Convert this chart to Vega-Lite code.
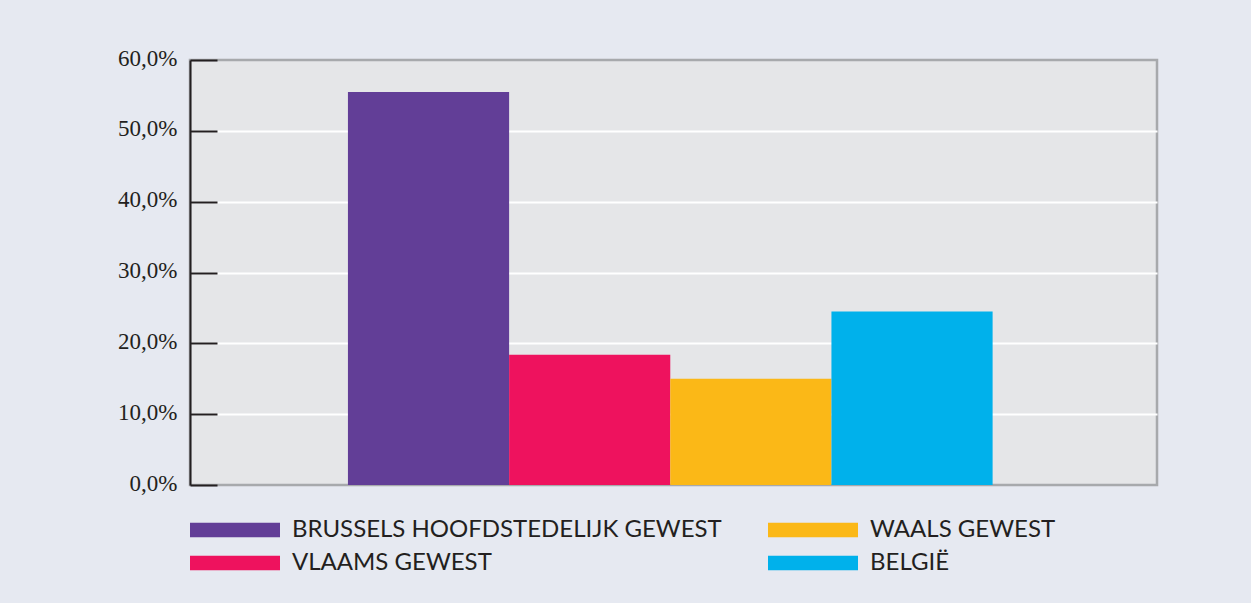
{
  "$schema": "https://vega.github.io/schema/vega-lite/v6.json",
  "autosize": "none",
  "width": 967,
  "height": 425,
  "padding": {"left": 190, "top": 60, "right": 94, "bottom": 118},
  "background": "#e6e9f1",
  "data": {"values": [
    {"region": "BRUSSELS HOOFDSTEDELIJK GEWEST", "value": 55.5},
    {"region": "VLAAMS GEWEST", "value": 18.4},
    {"region": "WAALS GEWEST", "value": 15.0},
    {"region": "BELGIË", "value": 24.5}
  ]},
  "config": {
    "view": {"fill": "#e5e6e8", "stroke": "#a7a9ac", "strokeWidth": 2.5}
  },
  "mark": {"type": "bar"},
  "encoding": {
    "x": {
      "field": "region",
      "type": "nominal",
      "sort": ["BRUSSELS HOOFDSTEDELIJK GEWEST", "VLAAMS GEWEST", "WAALS GEWEST", "BELGIË"],
      "scale": {"paddingInner": 0, "paddingOuter": 1, "align": 0.49},
      "axis": null
    },
    "y": {
      "field": "value",
      "type": "quantitative",
      "scale": {"domain": [0, 60], "nice": false},
      "axis": {
        "title": null,
        "values": [0, 10, 20, 30, 40, 50, 60],
        "labelExpr": "replace(format(datum.value, '.1f'), '.', ',') + '%'",
        "labelFont": "Liberation Serif",
        "labelFontSize": 23,
        "labelColor": "#231f20",
        "labelPadding": 40,
        "labelBaseline": "alphabetic",
        "labelOffset": 5,
        "domainColor": "#231f20",
        "domainWidth": 2,
        "tickColor": "#231f20",
        "tickWidth": 2,
        "tickSize": -27,
        "grid": true,
        "gridColor": "#ffffff",
        "gridWidth": 2,
        "gridOpacity": {"condition": {"test": "datum.value == 0 || datum.value == 60", "value": 0}, "value": 1}
      }
    },
    "color": {
      "field": "region",
      "type": "nominal",
      "scale": {
        "domain": ["BRUSSELS HOOFDSTEDELIJK GEWEST", "WAALS GEWEST", "VLAAMS GEWEST", "BELGIË"],
        "range": ["#623e97", "#fbb817", "#ee125e", "#00b1eb"]
      },
      "legend": {
        "title": null,
        "orient": "none",
        "legendX": 33,
        "legendY": 458,
        "direction": "horizontal",
        "columns": 2,
        "columnPadding": 46,
        "rowPadding": 9,
        "symbolType": "M-5,-0.8L5,-0.8L5,0.8L-5,0.8Z",
        "symbolSize": 324,
        "symbolStrokeWidth": 0,
        "symbolOpacity": 1,
        "labelFont": "Lato",
        "labelFontSize": 24,
        "labelColor": "#231f20",
        "labelOffset": 45,
        "labelLimit": 600
      }
    }
  }
}
